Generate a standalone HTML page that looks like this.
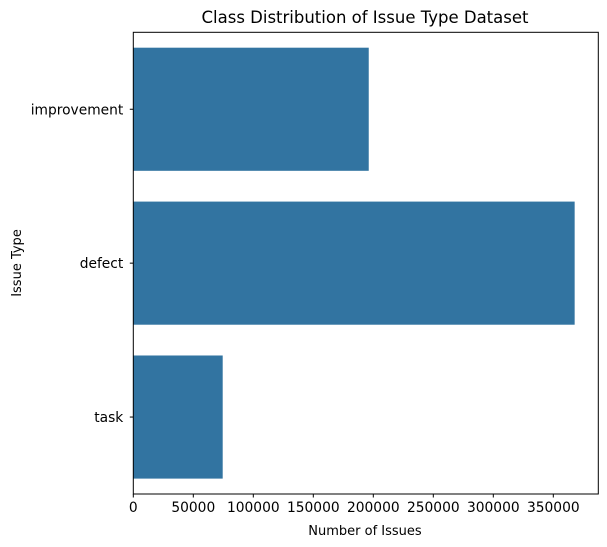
<!DOCTYPE html>
<html><head><meta charset="utf-8"><style>
body{margin:0;background:#fff;}
svg{display:block;font-family:"DejaVu Sans","Liberation Sans",sans-serif;}
</style></head><body>
<svg id="chart" width="607" height="547">
<text x="365" y="23" text-anchor="middle" font-size="16.5">Class Distribution of Issue Type Dataset</text>
<g id="bars"></g><g id="xticks"></g><g id="yticks"></g>
<rect x="133.3" y="32.3" width="465" height="461.7" fill="none" stroke="#000" stroke-width="1"/>
<text x="365" y="535" text-anchor="middle" font-size="13">Number of Issues</text>
<text transform="translate(21,263) rotate(-90)" text-anchor="middle" font-size="13">Issue Type</text>
</svg>
<script>
const categories=["improvement","defect","task"];
const values=[196200,367800,74500];
const xTicks=[0,50000,100000,150000,200000,250000,300000,350000];
const L=133.3,T=32.3,B=494,S=0.0012;
const ns="http://www.w3.org/2000/svg";
const xs=v=>L+v*S;
const band=(B-T)/categories.length;
const yc=i=>T+band*(i+0.5);
function mk(t,a,p){const e=document.createElementNS(ns,t);for(const k in a)e.setAttribute(k,a[k]);p.appendChild(e);return e;}
const gb=document.getElementById('bars'),gx=document.getElementById('xticks'),gy=document.getElementById('yticks');
values.forEach((v,i)=>{
const r=mk('rect',{x:L,y:yc(i)-band*0.4,width:xs(v)-L,height:band*0.8,fill:'#3274a1'},gb);


const tk=mk('line',{x1:L-3.5,x2:L,y1:yc(i),y2:yc(i),stroke:'#000'},gy);


const t=mk('text',{x:L-10,y:yc(i)+5,'text-anchor':'end','font-size':'13.8'},gy);
t.textContent=categories[i];


});
xTicks.forEach(v=>{
const tk=mk('line',{x1:xs(v),x2:xs(v),y1:B,y2:B+3.5,stroke:'#000'},gx);


const t=mk('text',{x:xs(v),y:B+18,'text-anchor':'middle','font-size':'13.8'},gx);
t.textContent=v;


});
</script>
</body></html>
